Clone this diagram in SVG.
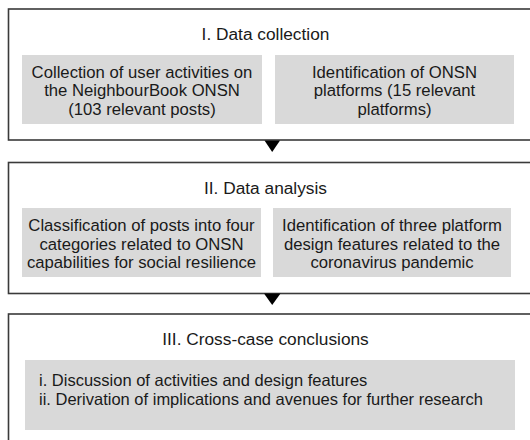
<svg xmlns="http://www.w3.org/2000/svg" width="530" height="440" viewBox="0 0 530 440">
<style>
.frame{fill:#ffffff;stroke:#3a3a3a;stroke-width:1.6}
.cell{fill:#d9d9d9;stroke:none}
text{font-family:"Liberation Sans",Arial,sans-serif;font-size:16.7px;fill:#1a1a1a}
.c{text-anchor:middle}
.t{font-size:17.3px}
.l{font-size:16.5px}
.arrow{fill:#000000;stroke:none}
</style>
<rect width="530" height="440" fill="#ffffff"/>
<g id="stage1">
<rect class="frame" x="8.5" y="9" width="540" height="131"/>
<text class="c t" x="265.5" y="40">I. Data collection</text>
<g id="stage1a">
<rect class="cell" x="22" y="55" width="240" height="69"/>
<text class="c" x="142" y="77.5">Collection of user activities on</text>
<text class="c" x="142" y="96">the NeighbourBook ONSN</text>
<text class="c" x="142" y="114.5">(103 relevant posts)</text>
</g>
<g id="stage1b">
<rect class="cell" x="275" y="55" width="239" height="69"/>
<text class="c" x="394.5" y="77.5">Identification of ONSN</text>
<text class="c" x="394.5" y="96">platforms (15 relevant</text>
<text class="c" x="394.5" y="114.5">platforms)</text>
</g>
</g>
<g id="stage2">
<rect class="frame" x="8.5" y="162.5" width="540" height="131"/>
<text class="c t" x="265.5" y="193.5">II. Data analysis</text>
<g id="stage2a">
<rect class="cell" x="22" y="208" width="239" height="69"/>
<text class="c" x="141.5" y="231">Classification of posts into four</text>
<text class="c" x="141.5" y="249.5">categories related to ONSN</text>
<text class="c" x="141.5" y="268">capabilities for social resilience</text>
</g>
<g id="stage2b">
<rect class="cell" x="273" y="208" width="238" height="69"/>
<text class="c" x="392" y="231">Identification of three platform</text>
<text class="c" x="392" y="249.5">design features related to the</text>
<text class="c" x="392" y="268">coronavirus pandemic</text>
</g>
</g>
<g id="stage3">
<rect class="frame" x="8.5" y="314" width="540" height="140"/>
<text class="c t" x="265.5" y="344.5">III. Cross-case conclusions</text>
<g id="stage3a">
<rect class="cell" x="25" y="360" width="490" height="70"/>
<text class="l" x="39" y="386">i. Discussion of activities and design features</text>
<text class="l" x="39" y="404.5">ii. Derivation of implications and avenues for further research</text>
</g>
</g>
<g id="connectors">
<polygon class="arrow" points="264.5,140.5 280,140.5 272.2,152"/>
<polygon class="arrow" points="264,293.5 280.5,293.5 272.2,305"/>
</g>
</svg>
